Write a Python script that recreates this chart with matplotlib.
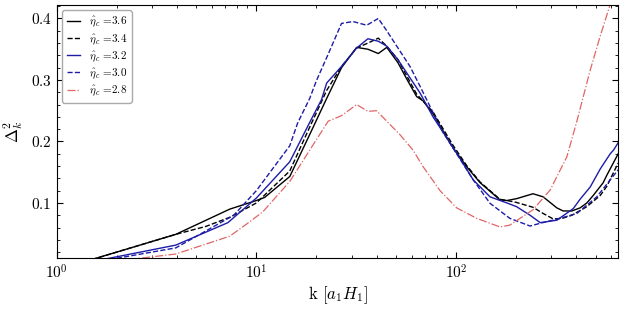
import numpy as np
import matplotlib
matplotlib.use('Agg')
import matplotlib.pyplot as plt
from matplotlib.ticker import MultipleLocator

plt.rcParams['font.family'] = 'serif'
plt.rcParams['font.serif'] = ['cmr10']
plt.rcParams['mathtext.fontset'] = 'cm'
plt.rcParams['axes.formatter.use_mathtext'] = True

# eta_c = 3.6 (black solid)
k_36 = [1.5, 3.95, 7.36, 10.0, 11.0, 14.7, 18.3, 22.5, 26.7, 31.8, 36.2, 40.8, 45.0, 51.2,
        57.0, 63.5, 68.4, 76.7, 96.5, 113, 132, 166, 180, 201, 243, 273, 320, 344, 380,
        418, 452, 486, 546, 569, 649]
d_36 = [0.008, 0.049, 0.090, 0.104, 0.109, 0.143, 0.208, 0.270, 0.320, 0.353, 0.350, 0.343,
        0.353, 0.328, 0.300, 0.273, 0.266, 0.245, 0.190, 0.159, 0.133, 0.105, 0.104, 0.107,
        0.115, 0.110, 0.092, 0.087, 0.087, 0.092, 0.100, 0.112, 0.133, 0.145, 0.180]

# eta_c = 3.4 (black dashed)
k_34 = [1.5, 3.95, 5.6, 7.4, 10.0, 14.7, 18.3, 22.5, 26.7, 31.8, 36.2, 40.8, 45.0, 51.2,
        63.5, 76.7, 96.5, 113, 132, 166, 180, 200, 243, 273, 307, 340, 380, 452, 527, 569, 649]
d_34 = [0.008, 0.049, 0.062, 0.077, 0.100, 0.152, 0.220, 0.283, 0.322, 0.352, 0.360, 0.368,
        0.355, 0.333, 0.277, 0.248, 0.194, 0.161, 0.134, 0.106, 0.104, 0.101, 0.093, 0.083,
        0.074, 0.075, 0.080, 0.094, 0.112, 0.127, 0.165]

# eta_c = 3.2 (blue solid)
k_32 = [1.7, 3.95, 7.2, 10.0, 14.7, 18.3, 21.2, 22.5, 26.7, 31.8, 36.2, 40.8, 45.0, 51.2,
        66.0, 76.7, 100.8, 122, 148, 180, 201, 235, 264, 320, 387, 418, 470, 527, 592, 615, 649]
d_32 = [0.008, 0.0315, 0.068, 0.108, 0.167, 0.228, 0.268, 0.295, 0.322, 0.352, 0.367, 0.363,
        0.355, 0.333, 0.279, 0.240, 0.181, 0.1375, 0.110, 0.100, 0.094, 0.080, 0.068, 0.072,
        0.091, 0.106, 0.126, 0.155, 0.180, 0.186, 0.198]

# eta_c = 3.0 (blue dashed)
k_30 = [1.84, 3.95, 7.7, 10.0, 14.7, 16.1, 18.5, 20.0, 22.9, 26.7, 30.5, 35.7, 40.8, 45.0,
        51.2, 58.8, 66.0, 76.7, 86.4, 122, 148, 186, 235, 264, 332, 403, 507, 649]
d_30 = [0.008, 0.027, 0.080, 0.120, 0.193, 0.230, 0.270, 0.299, 0.342, 0.392, 0.395, 0.389,
        0.400, 0.380, 0.352, 0.322, 0.290, 0.247, 0.214, 0.1375, 0.0995, 0.075, 0.0625, 0.067,
        0.075, 0.083, 0.110, 0.154]

# eta_c = 2.8 (red dash-dot)
k_28 = [2.3, 3.95, 7.36, 9.27, 10.8, 14.7, 22.9, 26.7, 31.8, 36.2, 40.0, 52.4, 60.9, 68.4,
        83.2, 100.8, 127, 166, 186, 243, 296, 359, 403, 470, 527, 592, 640]
d_28 = [0.008, 0.017, 0.046, 0.0695, 0.086, 0.135, 0.233, 0.242, 0.260, 0.249, 0.250, 0.211,
        0.186, 0.159, 0.120, 0.092, 0.075, 0.061, 0.064, 0.089, 0.121, 0.175, 0.233, 0.316,
        0.371, 0.423, 0.470]

fig = plt.figure(figsize=(6.23, 3.09), dpi=100)
ax = fig.add_axes([0.091, 0.164, 0.9015, 0.82])

blue = '#1c1ca8'
red = '#e06666'
ax.plot(k_36, d_36, color='k', lw=1.0, ls='-', label=r'$\hat{\eta}_c$ =3.6')
ax.plot(k_34, d_34, color='k', lw=1.0, ls='--', label=r'$\hat{\eta}_c$ =3.4')
ax.plot(k_32, d_32, color=blue, lw=1.0, ls='-', label=r'$\hat{\eta}_c$ =3.2')
ax.plot(k_30, d_30, color=blue, lw=1.0, ls='--', label=r'$\hat{\eta}_c$ =3.0')
ax.plot(k_28, d_28, color=red, lw=0.9, ls='-.', label=r'$\hat{\eta}_c$ =2.8')

ax.set_xscale('log')
ax.set_xlim(1, 650)
ax.set_ylim(0.01, 0.422)
ax.yaxis.set_major_locator(MultipleLocator(0.1))
ax.yaxis.set_minor_locator(MultipleLocator(0.02))
ax.tick_params(which='both', direction='in', top=True, right=True, labelsize=11)
ax.tick_params(which='major', length=4)
ax.tick_params(which='minor', length=2)

ax.set_xlabel(r'k $[a_1H_1]$', fontsize=12, labelpad=2)
ax.set_ylabel(r'$\Delta_k^2$', fontsize=12)

ax.legend(loc='upper left', fontsize=8, handlelength=1.2, edgecolor='#aaaaaa',
          framealpha=1, labelspacing=0.25)

fig.savefig('out.png', dpi=100)
